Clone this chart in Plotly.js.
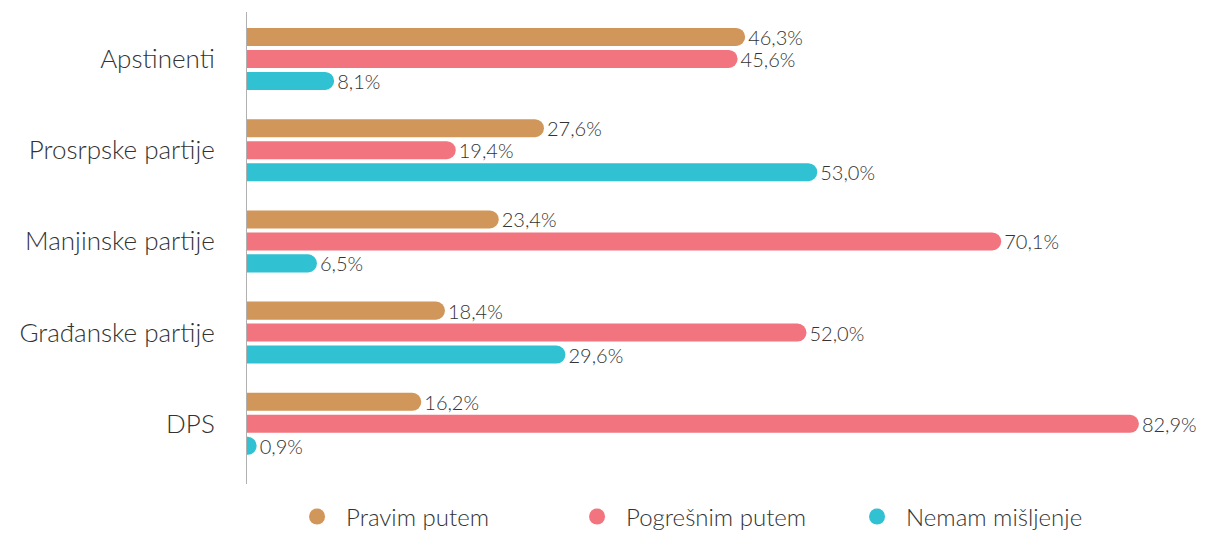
<!DOCTYPE html>
<html>
<head>
<meta charset="utf-8">
<script src="https://cdn.plot.ly/plotly-3.0.1.min.js"></script>
<style>
  html, body { margin: 0; padding: 0; background: #fff; }
  #chart { width: 1231px; height: 534px; }
</style>
</head>
<body>
<div id="chart"></div>
<script>
let categories = ['Apstinenti', 'Prosrpske partije', 'Manjinske partije', 'Građanske partije', 'DPS'];
let seriesNames = ['Pravim putem', 'Pogrešnim putem', 'Nemam mišljenje'];
let pravimPutem = [46.3, 27.6, 23.4, 18.4, 16.2];
let pogresnimPutem = [45.6, 19.4, 70.1, 52.0, 82.9];
let nemamMisljenje = [8.1, 53.0, 6.5, 29.6, 0.9];
let colors = ['#d19659', '#f2747f', '#30c1d3'];

const fontFamily = 'Lato, "Open Sans", sans-serif';
const textColor = '#333333';

function pct(v) {
    return v.toFixed(1).replace('.', ',') + '%';
}

let seriesValues = [pravimPutem, pogresnimPutem, nemamMisljenje];

let traces = seriesValues.map((values, i) => ({
    type: 'bar',
    orientation: 'h',
    name: seriesNames[i],
    y: categories,
    x: values,
    text: values.map(pct),
    textposition: 'outside',
    constraintext: 'none',
    cliponaxis: false,
    textfont: {family: fontFamily, size: 20, color: textColor, weight: 300},
    marker: {color: colors[i], cornerradius: 9},
    showlegend: false,
    hoverinfo: 'none',
}));

// legend entries drawn as round markers
seriesNames.forEach((name, i) => {
    traces.push({
        type: 'scatter',
        mode: 'markers',
        name: name,
        x: [null],
        y: [null],
        marker: {color: colors[i], size: 21},
        showlegend: true,
        hoverinfo: 'none',
    });
});

let layout = {
    width: 1231,
    height: 534,
    margin: {l: 247, r: 20, t: 12, b: 50, autoexpand: false},
    paper_bgcolor: '#ffffff',
    plot_bgcolor: '#ffffff',
    barmode: 'group',
    bargap: 0.277,
    bargroupgap: 0.18,
    font: {family: fontFamily, color: textColor},
    xaxis: {
        range: [0, 89.6],
        showgrid: false,
        zeroline: false,
        showline: false,
        showticklabels: false,
        fixedrange: true,
    },
    yaxis: {
        type: 'category',
        range: [4.66, -0.515],
        showgrid: false,
        zeroline: false,
        showline: true,
        linecolor: '#b0b0b0',
        linewidth: 1,
        ticks: '',
        ticklabelstandoff: 26,
        tickfont: {family: fontFamily, size: 26, color: textColor, weight: 300},
        fixedrange: true,
    },
    showlegend: true,
    legend: {
        orientation: 'h',
        xref: 'container',
        yref: 'container',
        x: 0.234,
        xanchor: 'left',
        y: 0.032,
        yanchor: 'middle',
        font: {family: fontFamily, size: 24, color: textColor, weight: 300},
        entrywidth: 217,
        entrywidthmode: 'pixels',
        itemwidth: 48,
        traceorder: 'normal',
    },
};

let config = {
    displayModeBar: false,
    staticPlot: true,
};

Plotly.newPlot('chart', traces, layout, config);
</script>
</body>
</html>
